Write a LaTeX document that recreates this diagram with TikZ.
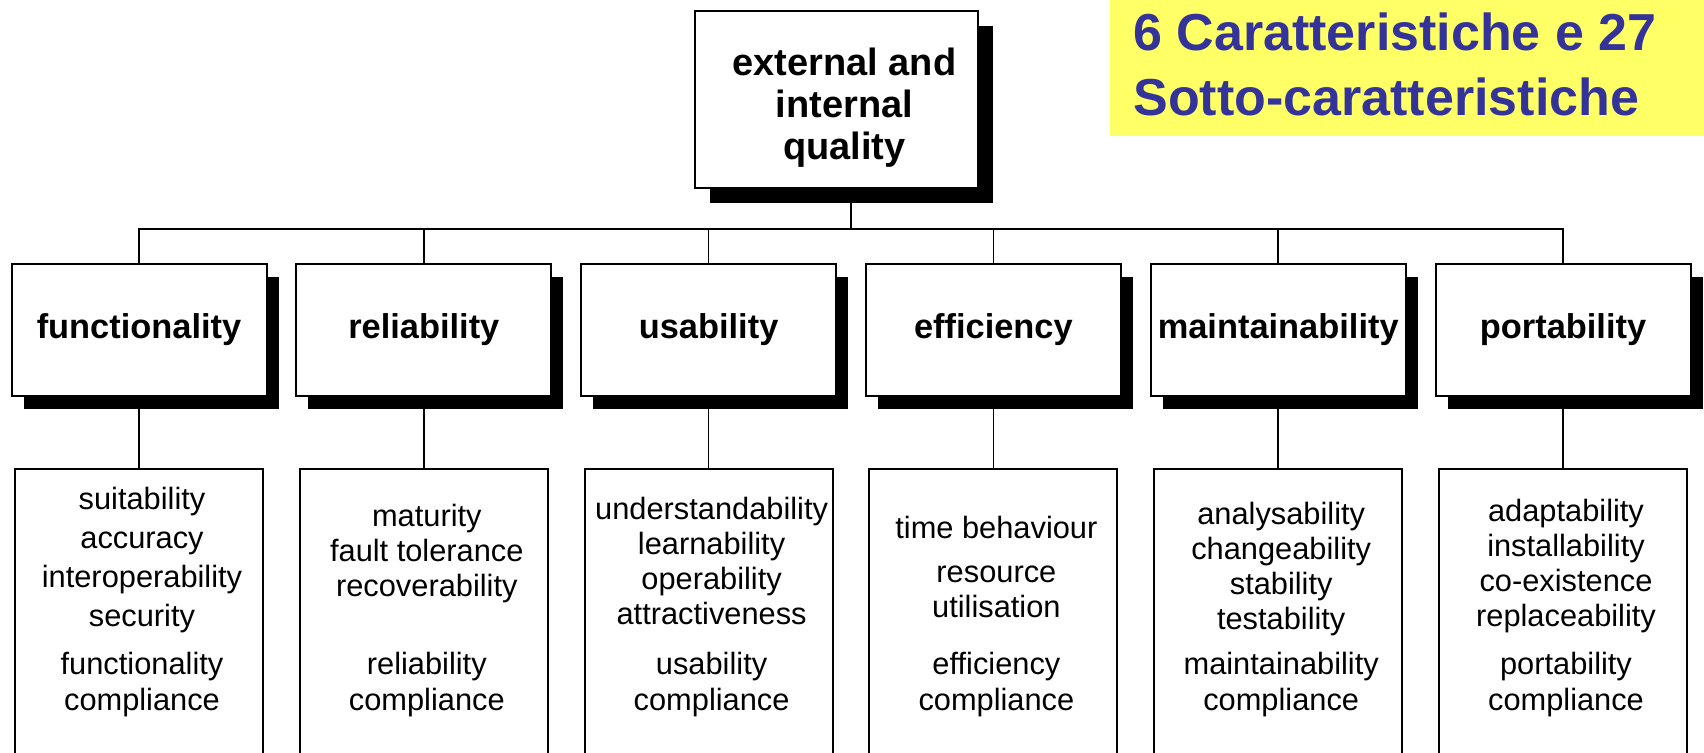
\documentclass[tikz,border=0pt]{standalone}
\usepackage{fontspec}
\setmainfont{Liberation Sans}
\usetikzlibrary{shadows}
\definecolor{notebg}{HTML}{FFFF66}
\definecolor{noteink}{HTML}{333399}

\begin{document}
\begin{tikzpicture}[
  conn/.style={line width=0.75pt},
  rootbox/.style={draw, fill=white, line width=1pt, minimum width=141.5pt, minimum height=88.5pt,
    drop shadow={shadow xshift=7.5pt, shadow yshift=-7.5pt, fill=black, opacity=1}},
  roottext/.style={align=center, inner sep=0pt, font=\fontsize{19pt}{21pt}\selectfont\bfseries},
  catbox/.style={draw, fill=white, line width=1pt, minimum width=127.5pt, minimum height=66pt,
    font=\fontsize{17.2pt}{20pt}\selectfont\bfseries,
    drop shadow={shadow xshift=6pt, shadow yshift=-6.5pt, fill=black, opacity=1}},
  subbox/.style={draw, line width=1pt, minimum width=124pt, minimum height=150pt},
  subtext/.style={align=center, inner sep=0pt, xshift=1.5pt, font=\fontsize{15.4pt}{17.5pt}\selectfont},
  compl/.style={subtext, font=\fontsize{15.4pt}{18pt}\selectfont},
  notebox/.style={anchor=north west, fill=notebg, inner sep=0pt, minimum width=297pt, minimum height=68pt},
  notetext/.style={anchor=north west, align=left, inner sep=0pt, text=noteink,
    font=\fontsize{26pt}{32.5pt}\selectfont\bfseries},
  edge from parent/.style={draw, line width=0.75pt},
  level 1/.style={sibling distance=142.4pt, level distance=50.5pt,
    edge from parent path={(\tikzparentnode) -| (\tikzchildnode.north)}},
  level 2/.style={level distance=144.5pt,
    edge from parent path={(\tikzparentnode.south) -- (\tikzchildnode.north)}}
]
\useasboundingbox (0,0) rectangle (852pt,-376.5pt);
\clip (0,0) rectangle (852pt,-376.5pt);

\node[notebox] (note) at (555pt,0pt) {};
\node[notetext] (notetxt) at ([xshift=11.5pt,yshift=-6pt]note.north west) {6 Caratteristiche e 27\\Sotto-caratteristiche};

\node[rootbox] (root) at (418.25pt,-49.75pt) {};
\node[roottext] (roottxt) at ([xshift=4pt,yshift=-4.3pt]root.center) {external and\\internal\\quality};

\coordinate (bus) at (425.5pt,-114.5pt)
  child {node[catbox] (func) {functionality}
    child {node[subbox] (funcsub) {}}}
  child {node[catbox] (rel) {reliability}
    child {node[subbox] (relsub) {}}}
  child {node[catbox] (usab) {usability}
    child {node[subbox] (usabsub) {}}}
  child {node[catbox] (eff) {efficiency}
    child {node[subbox] (effsub) {}}}
  child {node[catbox] (maint) {maintainability}
    child {node[subbox] (maintsub) {}}}
  child {node[catbox] (port) {portability}
    child {node[subbox] (portsub) {}}};

\draw[conn] (root.south -| bus) -- (bus);

\node[subtext, font=\fontsize{15.4pt}{19.5pt}\selectfont] (funclist) at ([yshift=-46pt]funcsub.north) {suitability\\accuracy\\interoperability\\security};
\node[compl] (funccompl) at ([yshift=-108.2pt]funcsub.north) {functionality\\compliance};
\node[subtext] (rellist) at ([yshift=-42.8pt]relsub.north) {maturity\\fault tolerance\\recoverability};
\node[compl] (relcompl) at ([yshift=-108.2pt]relsub.north) {reliability\\compliance};
\node[subtext] (usablist) at ([yshift=-46.3pt]usabsub.north) {understandability\\learnability\\operability\\attractiveness};
\node[compl] (usabcompl) at ([yshift=-108.2pt]usabsub.north) {usability\\compliance};
\node[subtext] (efflist) at ([yshift=-49.5pt]effsub.north) {time behaviour\\[4.5pt]resource\\utilisation};
\node[compl] (effcompl) at ([yshift=-108.2pt]effsub.north) {efficiency\\compliance};
\node[subtext] (maintlist) at ([yshift=-50.3pt]maintsub.north) {analysability\\changeability\\stability\\testability};
\node[compl] (maintcompl) at ([yshift=-108.2pt]maintsub.north) {maintainability\\compliance};
\node[subtext] (portlist) at ([yshift=-49pt]portsub.north) {adaptability\\installability\\co-existence\\replaceability};
\node[compl] (portcompl) at ([yshift=-108.2pt]portsub.north) {portability\\compliance};
\end{tikzpicture}
\end{document}
